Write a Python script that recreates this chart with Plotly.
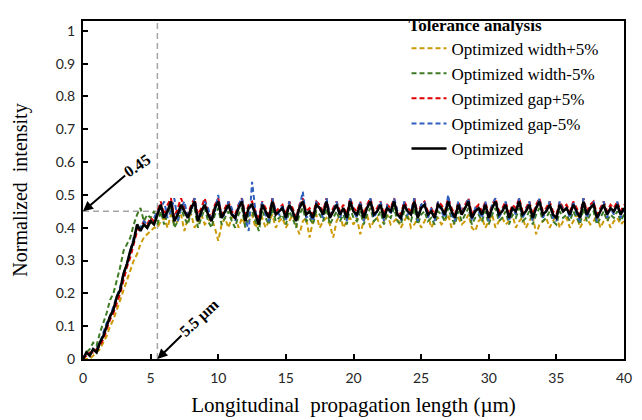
import plotly.graph_objects as go

# sampling grid (µm), step 0.25 from 0 to 40
x_um = [i * 0.25 for i in range(161)]

width_plus5 = [
    0.00, 0.00, 0.00, 0.01, 0.02, 0.03, 0.05, 0.07, 0.10, 0.12, 0.15, 0.18, 0.21, 0.24, 0.27, 0.30, 0.32, 0.35, 0.37, 0.38, 0.39, 0.40, 0.40,
    0.42, 0.43, 0.40, 0.44, 0.41, 0.42, 0.44, 0.39, 0.43, 0.44, 0.40, 0.42,
    0.44, 0.41, 0.42, 0.43, 0.40, 0.36, 0.41, 0.43, 0.40, 0.43, 0.44, 0.40,
    0.43, 0.41, 0.42, 0.44, 0.40, 0.42, 0.43, 0.40, 0.42, 0.44, 0.40, 0.42,
    0.43, 0.40, 0.42, 0.44, 0.41, 0.38, 0.42, 0.43, 0.37, 0.42, 0.44, 0.40,
    0.42, 0.43, 0.41, 0.37, 0.42, 0.44, 0.40, 0.42, 0.43, 0.41, 0.43, 0.38,
    0.42, 0.44, 0.40, 0.42, 0.43, 0.40, 0.42, 0.44, 0.41, 0.42, 0.43, 0.40,
    0.42, 0.44, 0.40, 0.41, 0.43, 0.40, 0.42, 0.44, 0.40, 0.42, 0.43, 0.41,
    0.42, 0.44, 0.40, 0.42, 0.43, 0.41, 0.42, 0.44, 0.40, 0.39, 0.42, 0.43,
    0.40, 0.42, 0.44, 0.40, 0.42, 0.43, 0.41, 0.42, 0.44, 0.40, 0.42, 0.43,
    0.40, 0.42, 0.44, 0.38, 0.41, 0.42, 0.43, 0.40, 0.42, 0.44, 0.40, 0.42,
    0.43, 0.40, 0.42, 0.44, 0.40, 0.42, 0.43, 0.41, 0.42, 0.44, 0.40, 0.42,
    0.43, 0.40, 0.42, 0.43, 0.41, 0.42,
]

width_minus5 = [
    0.00, 0.02, 0.03, 0.05, 0.04, 0.08, 0.11, 0.14, 0.18, 0.20, 0.24, 0.28, 0.33, 0.35, 0.37, 0.41, 0.44, 0.46, 0.42, 0.44, 0.43, 0.45, 0.41,
    0.45, 0.41, 0.44, 0.47, 0.40, 0.42, 0.46, 0.43, 0.41, 0.45, 0.46, 0.40,
    0.43, 0.46, 0.42, 0.40, 0.44, 0.46, 0.41, 0.43, 0.45, 0.42, 0.40, 0.44,
    0.46, 0.40, 0.44, 0.45, 0.42, 0.39, 0.45, 0.43, 0.41, 0.46, 0.42, 0.43,
    0.44, 0.41, 0.45, 0.43, 0.40, 0.44, 0.46, 0.42, 0.43, 0.41, 0.45, 0.44,
    0.42, 0.46, 0.41, 0.43, 0.45, 0.42, 0.44, 0.41, 0.46, 0.43, 0.42, 0.45,
    0.41, 0.44, 0.46, 0.42, 0.43, 0.45, 0.41, 0.44, 0.43, 0.46, 0.42, 0.41,
    0.45, 0.43, 0.42, 0.46, 0.41, 0.44, 0.45, 0.42, 0.43, 0.41, 0.45, 0.44,
    0.42, 0.46, 0.43, 0.41, 0.45, 0.42, 0.44, 0.46, 0.41, 0.43, 0.44, 0.42,
    0.45, 0.41, 0.44, 0.46, 0.42, 0.43, 0.45, 0.41, 0.44, 0.43, 0.46, 0.42,
    0.43, 0.45, 0.41, 0.44, 0.46, 0.42, 0.43, 0.45, 0.42, 0.41, 0.45, 0.43,
    0.44, 0.42, 0.45, 0.43, 0.41, 0.46, 0.42, 0.44, 0.45, 0.41, 0.43, 0.45,
    0.42, 0.44, 0.43, 0.45, 0.42, 0.44,
]

gap_plus5 = [
    0.00, 0.01, 0.02, 0.02, 0.03, 0.04, 0.06, 0.09, 0.12, 0.14, 0.17, 0.20, 0.24, 0.28, 0.31, 0.35, 0.39, 0.40, 0.42, 0.41, 0.43, 0.42, 0.45,
    0.48, 0.44, 0.47, 0.49, 0.43, 0.46, 0.49, 0.46, 0.44, 0.47, 0.49, 0.44,
    0.46, 0.49, 0.45, 0.43, 0.47, 0.49, 0.44, 0.46, 0.48, 0.45, 0.44, 0.47,
    0.49, 0.44, 0.47, 0.48, 0.45, 0.43, 0.48, 0.46, 0.44, 0.49, 0.45, 0.46,
    0.47, 0.44, 0.48, 0.46, 0.43, 0.47, 0.49, 0.45, 0.46, 0.44, 0.48, 0.47,
    0.45, 0.49, 0.44, 0.46, 0.48, 0.45, 0.47, 0.44, 0.49, 0.46, 0.45, 0.48,
    0.44, 0.47, 0.49, 0.45, 0.46, 0.48, 0.44, 0.47, 0.46, 0.49, 0.45, 0.44,
    0.48, 0.46, 0.45, 0.49, 0.44, 0.47, 0.48, 0.45, 0.46, 0.44, 0.48, 0.47,
    0.45, 0.49, 0.46, 0.44, 0.48, 0.45, 0.47, 0.49, 0.44, 0.46, 0.47, 0.45,
    0.48, 0.44, 0.47, 0.49, 0.45, 0.46, 0.48, 0.44, 0.47, 0.46, 0.49, 0.45,
    0.46, 0.48, 0.44, 0.47, 0.49, 0.45, 0.46, 0.48, 0.45, 0.44, 0.48, 0.46,
    0.47, 0.45, 0.48, 0.46, 0.44, 0.49, 0.45, 0.47, 0.48, 0.44, 0.46, 0.48,
    0.45, 0.47, 0.46, 0.48, 0.45, 0.47,
]

gap_minus5 = [
    0.00, 0.02, 0.01, 0.03, 0.03, 0.05, 0.08, 0.11, 0.13, 0.16, 0.19, 0.22, 0.26, 0.29, 0.33, 0.37, 0.40, 0.40, 0.42, 0.41, 0.42, 0.43, 0.45,
    0.46, 0.48, 0.43, 0.45, 0.49, 0.42, 0.46, 0.48, 0.43, 0.45, 0.49, 0.43,
    0.44, 0.48, 0.46, 0.42, 0.45, 0.50, 0.43, 0.44, 0.48, 0.46, 0.42, 0.47,
    0.49, 0.43, 0.39, 0.54, 0.45, 0.41, 0.48, 0.44, 0.42, 0.49, 0.45, 0.44,
    0.47, 0.42, 0.48, 0.44, 0.43, 0.46, 0.51, 0.43, 0.44, 0.42, 0.48, 0.46,
    0.43, 0.49, 0.44, 0.45, 0.48, 0.43, 0.46, 0.42, 0.49, 0.45, 0.43, 0.48,
    0.42, 0.46, 0.49, 0.43, 0.45, 0.48, 0.42, 0.47, 0.44, 0.49, 0.45, 0.42,
    0.48, 0.44, 0.45, 0.49, 0.42, 0.47, 0.48, 0.43, 0.46, 0.42, 0.48, 0.45,
    0.43, 0.50, 0.44, 0.42, 0.48, 0.45, 0.46, 0.49, 0.42, 0.46, 0.45, 0.43,
    0.48, 0.42, 0.47, 0.49, 0.43, 0.45, 0.48, 0.42, 0.46, 0.44, 0.49, 0.43,
    0.45, 0.48, 0.42, 0.46, 0.49, 0.43, 0.45, 0.48, 0.43, 0.42, 0.48, 0.45,
    0.46, 0.43, 0.48, 0.44, 0.42, 0.49, 0.43, 0.46, 0.48, 0.42, 0.45, 0.48,
    0.43, 0.46, 0.44, 0.48, 0.43, 0.46,
]

optimized = [
    0.00, 0.02, 0.01, 0.03, 0.02, 0.05, 0.07, 0.10, 0.13, 0.15, 0.19, 0.21, 0.26, 0.29, 0.33, 0.36, 0.41, 0.39, 0.41, 0.40, 0.42, 0.41, 0.44,
    0.47, 0.43, 0.45, 0.48, 0.42, 0.44, 0.47, 0.45, 0.43, 0.46, 0.48, 0.42,
    0.45, 0.47, 0.44, 0.42, 0.46, 0.48, 0.43, 0.45, 0.47, 0.44, 0.43, 0.46,
    0.48, 0.42, 0.46, 0.47, 0.44, 0.41, 0.47, 0.45, 0.43, 0.48, 0.44, 0.45,
    0.46, 0.43, 0.47, 0.45, 0.42, 0.46, 0.48, 0.44, 0.45, 0.43, 0.47, 0.46,
    0.44, 0.48, 0.43, 0.45, 0.47, 0.44, 0.46, 0.43, 0.48, 0.45, 0.44, 0.47,
    0.43, 0.46, 0.48, 0.44, 0.45, 0.47, 0.43, 0.46, 0.45, 0.48, 0.44, 0.43,
    0.47, 0.45, 0.44, 0.48, 0.43, 0.46, 0.47, 0.44, 0.45, 0.43, 0.47, 0.46,
    0.44, 0.48, 0.45, 0.43, 0.47, 0.44, 0.46, 0.48, 0.43, 0.45, 0.46, 0.44,
    0.47, 0.43, 0.46, 0.48, 0.44, 0.45, 0.47, 0.43, 0.46, 0.45, 0.48, 0.44,
    0.45, 0.47, 0.43, 0.46, 0.48, 0.44, 0.45, 0.47, 0.44, 0.43, 0.47, 0.45,
    0.46, 0.44, 0.47, 0.45, 0.43, 0.48, 0.44, 0.46, 0.47, 0.43, 0.45, 0.47,
    0.44, 0.46, 0.45, 0.47, 0.44, 0.46,
]

series_names = ["Optimized width+5%", "Optimized width-5%", "Optimized gap+5%", "Optimized gap-5%", "Optimized"]
series_values = [width_plus5, width_minus5, gap_plus5, gap_minus5, optimized]
series_colors = ["#CC9A06", "#3D7A22", "#E00000", "#2F5FBF", "#000000"]

x_ticks = [0, 5, 10, 15, 20, 25, 30, 35, 40]
y_ticks = [0, 0.1, 0.2, 0.3, 0.4, 0.5, 0.6, 0.7, 0.8, 0.9, 1]
y_tick_labels = ["0", "0.1", "0.2", "0.3", "0.4", "0.5", "0.6", "0.7", "0.8", "0.9", "1"]

ref_level = 0.45
ref_length = 5.5

serif = "Liberation Serif, Times New Roman, serif"

fig = go.Figure()
for name, vals, col in zip(series_names, series_values, series_colors):
    solid = name == "Optimized"
    fig.add_trace(go.Scatter(
        x=x_um, y=vals, mode="lines", name=name,
        line=dict(color=col, width=2.6 if solid else 2, dash="solid" if solid else "5px,3px"),
    ))

# reference guide lines
fig.add_shape(type="line", x0=0, x1=ref_length, y0=ref_level, y1=ref_level,
              line=dict(color="#A6A6A6", width=1.5, dash="6px,4px"), layer="below")
fig.add_shape(type="line", x0=ref_length, x1=ref_length, y0=0, y1=1.03,
              line=dict(color="#A6A6A6", width=1.5, dash="6px,4px"), layer="below")

fig.add_annotation(x=0, y=ref_level, text="<b>0.45</b>", showarrow=True,
                   ax=54, ay=-46, textangle=-34, arrowhead=2, arrowsize=1, arrowwidth=2,
                   arrowcolor="black", font=dict(family=serif, size=16, color="black"))
fig.add_annotation(x=ref_length, y=0, text="<b>5.5 µm</b>", showarrow=True,
                   ax=42, ay=-41, textangle=-43, arrowhead=2, arrowsize=1, arrowwidth=2,
                   arrowcolor="black", font=dict(family=serif, size=16, color="black"))

axis_common = dict(showline=True, linewidth=2, linecolor="black", mirror=True,
                   ticks="inside", ticklen=5, tickwidth=1.5, tickcolor="black",
                   showgrid=False, zeroline=False,
                   tickfont=dict(family="Lato, Liberation Sans, sans-serif", size=14, color="#262626"))

fig.update_layout(
    width=634, height=412,
    margin=dict(l=75, r=18, t=1, b=61),
    plot_bgcolor="white", paper_bgcolor="white",
    xaxis=dict(range=[0, 40], tickvals=x_ticks, ticklabelstandoff=5,
               title=dict(text="Longitudinal  propagation length (µm)",
                          font=dict(family=serif, size=21, color="black"), standoff=13),
               **axis_common),
    yaxis=dict(range=[0, 1.03], tickvals=y_ticks, ticktext=y_tick_labels, ticklabelstandoff=3,
               title=dict(text="Normalized  intensity",
                          font=dict(family=serif, size=20, color="black"), standoff=23),
               **axis_common),
    legend=dict(x=0.598, y=1.037, xanchor="left", yanchor="top",
                bgcolor="rgba(0,0,0,0)", borderwidth=0,
                title=dict(text="<b>Tolerance analysis</b>", font=dict(family=serif, size=17, color="black")),
                font=dict(family=serif, size=17, color="black"),
                itemwidth=35, tracegroupgap=0),
    showlegend=True,
)

fig.write_html("out.html")
